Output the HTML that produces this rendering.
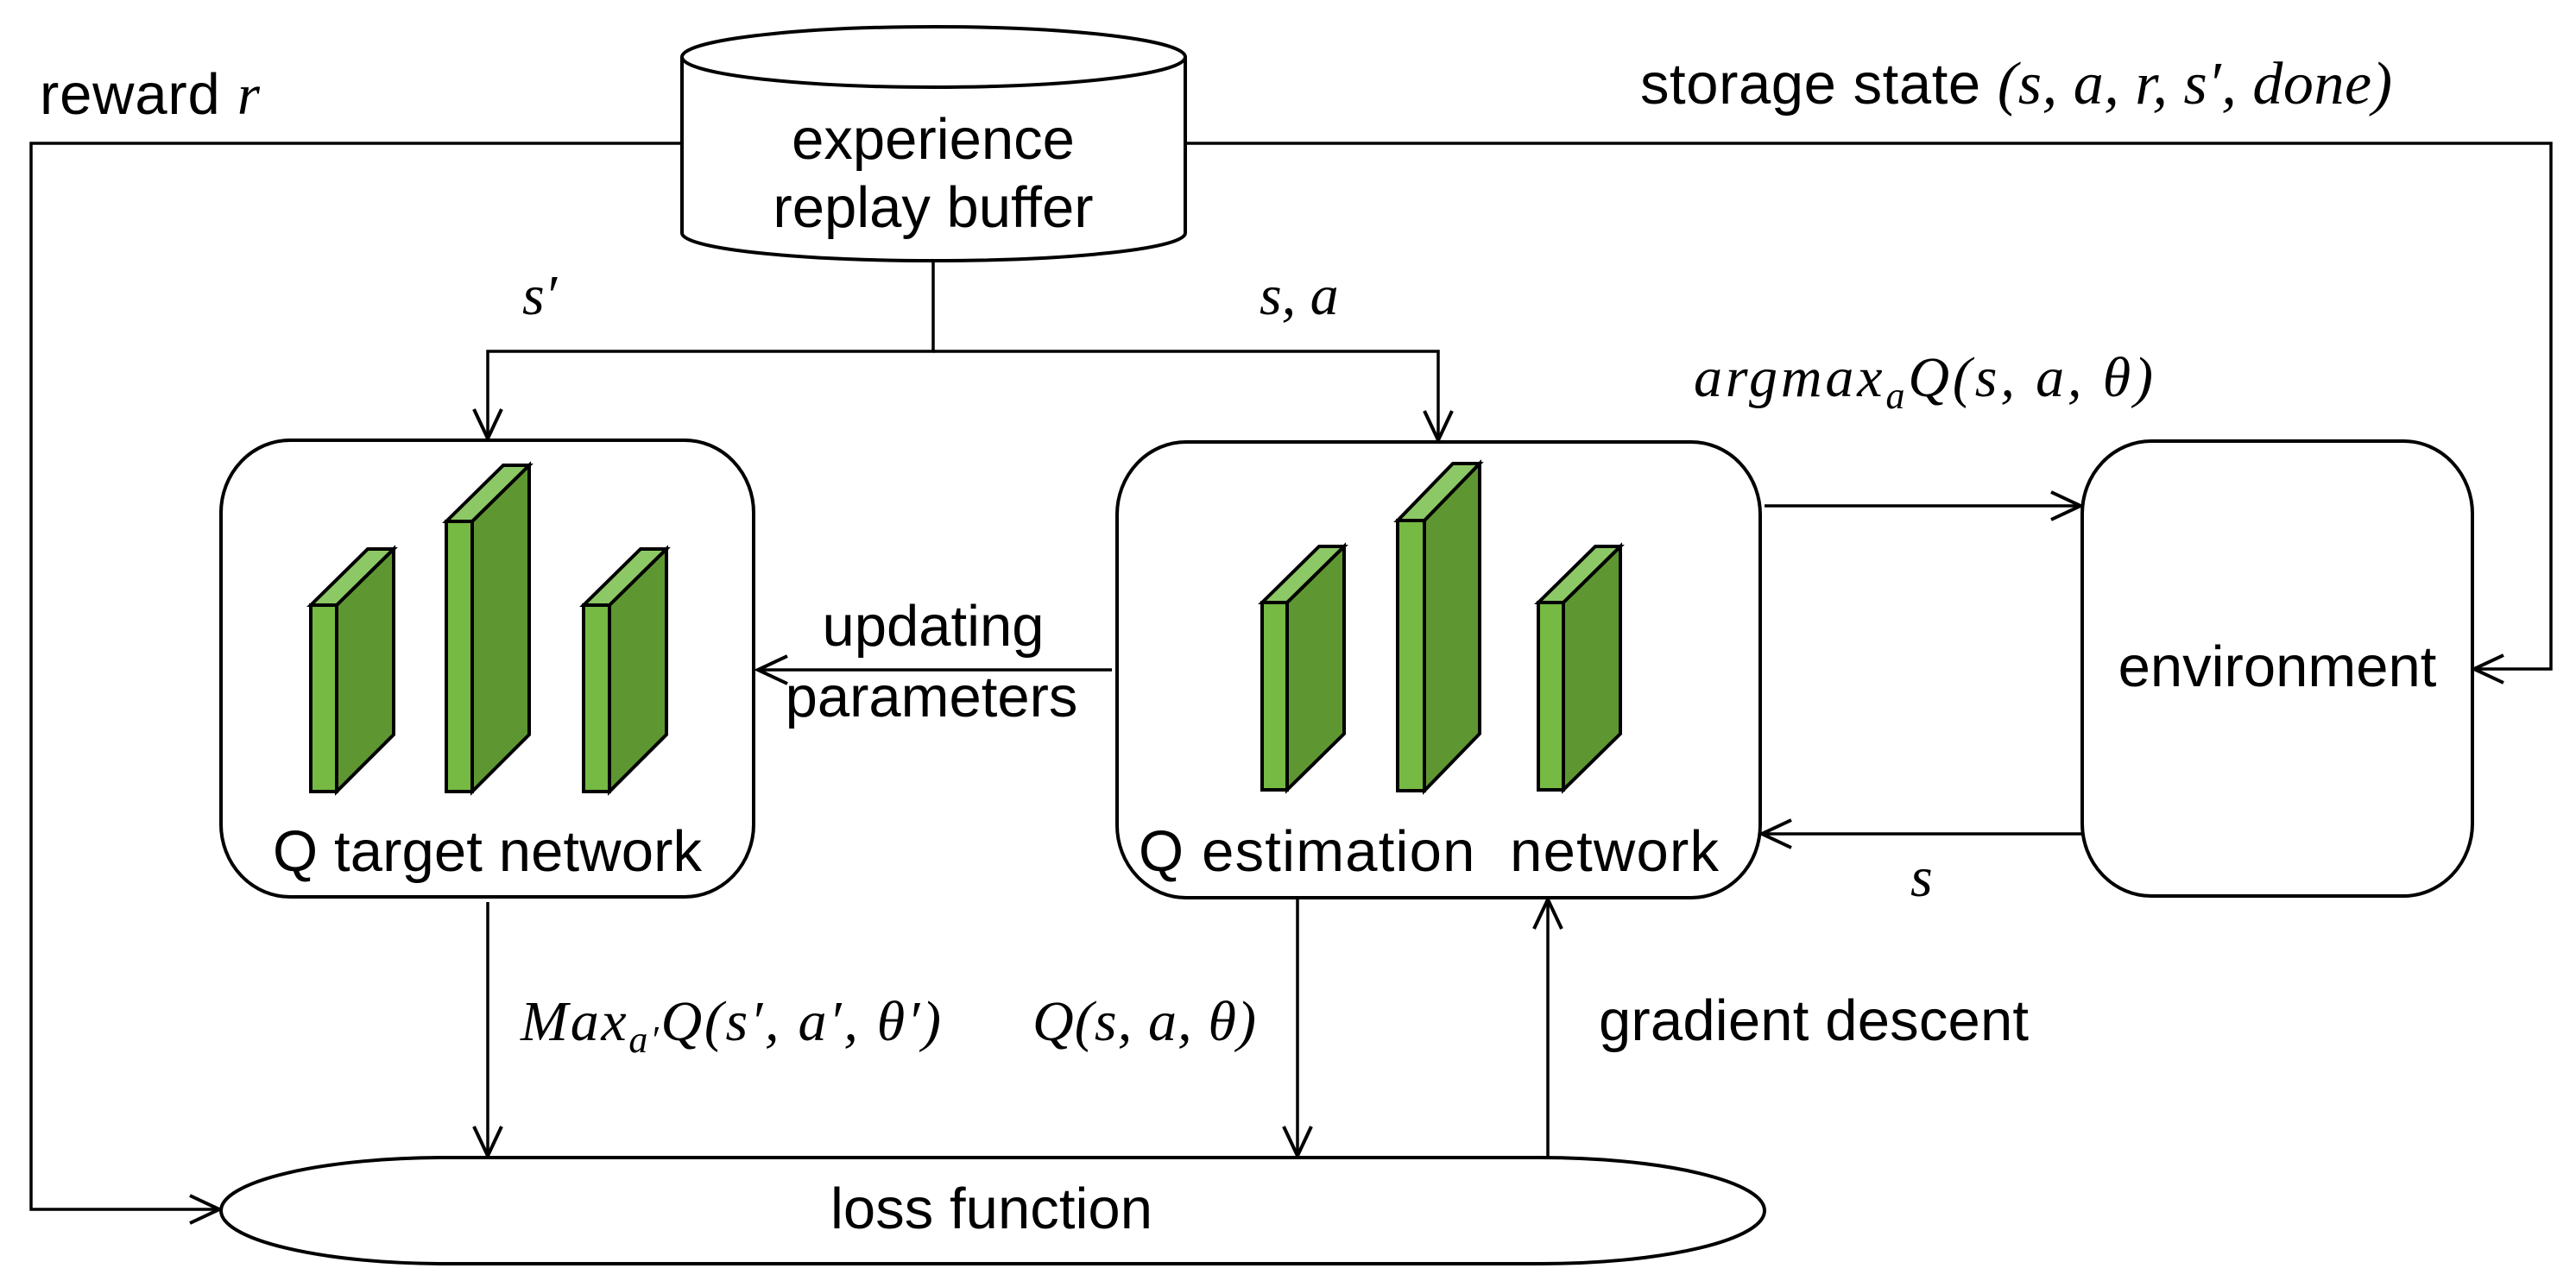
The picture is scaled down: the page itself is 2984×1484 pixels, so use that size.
<!DOCTYPE html>
<html><head><meta charset="utf-8"><style>
html,body{margin:0;padding:0;background:#fff;}
svg{display:block;}
.t{font-family:"Liberation Sans",Arial,sans-serif;font-size:67px;fill:#000;}
.m{font-family:"Liberation Serif",serif;font-style:italic;font-size:66px;fill:#000;}
</style></head><body>
<svg width="2984" height="1484" viewBox="0 0 2984 1484" xmlns="http://www.w3.org/2000/svg">
<defs>
<marker id="a" markerWidth="40" markerHeight="40" refX="36" refY="18" orient="auto" markerUnits="userSpaceOnUse">
<path d="M2,2 L36,18 L2,34" fill="none" stroke="#000" stroke-width="4"/>
</marker>
</defs>
<g fill="none" stroke="#000" stroke-width="4">
<path d="M790,66 L790,270 A291.5,32 0 0 0 1373,270 L1373,66" fill="#fff"/>
<ellipse cx="1081.5" cy="66" rx="291.5" ry="35" fill="#fff"/>
<rect x="256" y="510" width="617" height="529" rx="80" ry="84" fill="#fff"/>
<rect x="1294" y="512" width="745" height="528" rx="80" ry="84" fill="#fff"/>
<rect x="2412" y="511" width="452" height="527" rx="80" ry="84" fill="#fff"/>
<rect x="256" y="1341" width="1788" height="123" rx="260" ry="61.5" fill="#fff"/>
</g>
<g fill="none" stroke="#000" stroke-width="3.5">
<polyline points="790,166 36,166 36,1401 254,1401" marker-end="url(#a)"/>
<polyline points="1373,166 2955,166 2955,775 2866,775" marker-end="url(#a)"/>
<polyline points="1081,301 1081,407 565,407 565,508" marker-end="url(#a)"/>
<polyline points="1081,407 1666,407 1666,510" marker-end="url(#a)"/>
<line x1="1288" y1="776" x2="878" y2="776" marker-end="url(#a)"/>
<line x1="2044" y1="586" x2="2410" y2="586" marker-end="url(#a)"/>
<line x1="2412" y1="966" x2="2041" y2="966" marker-end="url(#a)"/>
<line x1="565" y1="1045" x2="565" y2="1339" marker-end="url(#a)"/>
<line x1="1503" y1="1040" x2="1503" y2="1339" marker-end="url(#a)"/>
<line x1="1793" y1="1341" x2="1793" y2="1042" marker-end="url(#a)"/>
</g>
<g stroke="#000" stroke-width="4" stroke-linejoin="miter">
<g>
<polygon points="390,701 456,636 456,851 390,917" fill="#5E9732"/>
<polygon points="360,701 426,636 456,636 390,701" fill="#8DC866"/>
<rect x="360" y="701" width="30" height="216" fill="#76B943"/>
</g>
<g>
<polygon points="547,604 613,539 613,851 547,917" fill="#5E9732"/>
<polygon points="517,604 583,539 613,539 547,604" fill="#8DC866"/>
<rect x="517" y="604" width="30" height="313" fill="#76B943"/>
</g>
<g>
<polygon points="706,701 772,636 772,851 706,917" fill="#5E9732"/>
<polygon points="676,701 742,636 772,636 706,701" fill="#8DC866"/>
<rect x="676" y="701" width="30" height="216" fill="#76B943"/>
</g>
<g>
<polygon points="1491,698 1557,633 1557,850 1491,915" fill="#5E9732"/>
<polygon points="1462,698 1528,633 1557,633 1491,698" fill="#8DC866"/>
<rect x="1462" y="698" width="29" height="217" fill="#76B943"/>
</g>
<g>
<polygon points="1650,603 1714,537 1714,850 1650,916" fill="#5E9732"/>
<polygon points="1619,603 1683,537 1714,537 1650,603" fill="#8DC866"/>
<rect x="1619" y="603" width="31" height="313" fill="#76B943"/>
</g>
<g>
<polygon points="1811,698 1877,633 1877,850 1811,915" fill="#5E9732"/>
<polygon points="1782,698 1848,633 1877,633 1811,698" fill="#8DC866"/>
<rect x="1782" y="698" width="29" height="217" fill="#76B943"/>
</g>
</g>
<text class="t" x="46" y="132" textLength="255">reward <tspan font-family="Liberation Serif" font-style="italic">r</tspan></text>
<text class="t" x="1081" y="184" text-anchor="middle">experience</text>
<text class="t" x="1081" y="263" text-anchor="middle">replay buffer</text>
<text class="t" x="1900" y="120" textLength="871">storage state <tspan font-family="Liberation Serif" font-style="italic" font-size="70">(s, a, r, s′, done)</tspan></text>
<text class="m" x="605" y="364">s′</text>
<text class="m" x="1459" y="364">s, a</text>
<text class="m" x="1962" y="459" textLength="532">argmax<tspan font-size="44" dy="14">a</tspan><tspan dy="-14">Q(s, a, θ)</tspan></text>
<text class="t" x="1081" y="748" text-anchor="middle">updating</text>
<text class="t" x="1079" y="830" text-anchor="middle">parameters</text>
<text class="t" x="2638" y="795" text-anchor="middle">environment</text>
<text class="t" x="316" y="1009" textLength="497">Q target network</text>
<text class="t" x="1319" y="1009" textLength="672" xml:space="preserve">Q estimation  network</text>
<text class="m" x="2213" y="1038">s</text>
<text class="m" x="603" y="1205" textLength="487">Max<tspan font-size="44" dy="14">a′</tspan><tspan dy="-14">Q(s′, a′, θ′)</tspan></text>
<text class="m" x="1196" y="1205" textLength="259">Q(s, a, θ)</text>
<text class="t" x="1852" y="1205" textLength="498">gradient descent</text>
<text class="t" x="962" y="1423" textLength="373">loss function</text>
</svg>
</body></html>
